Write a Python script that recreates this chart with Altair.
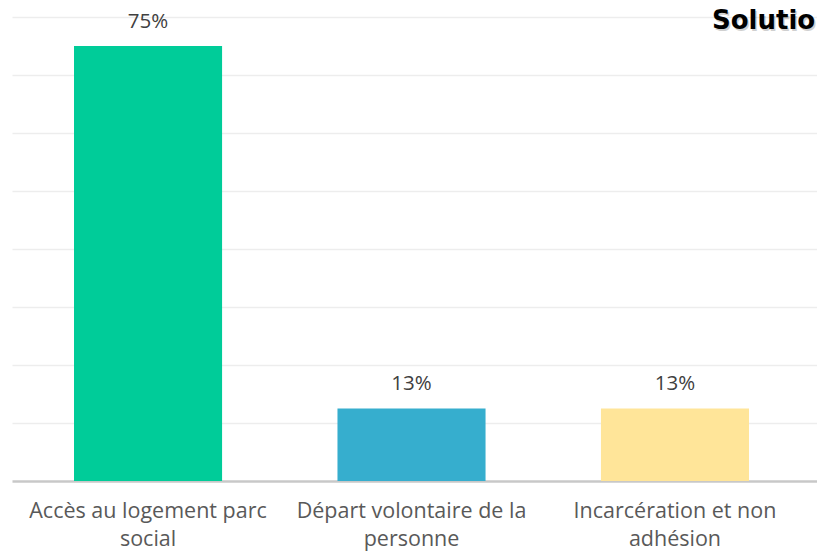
import altair as alt
import pandas as pd

categories = [
    "Accès au logement parc\nsocial",
    "Départ volontaire de la\npersonne",
    "Incarcération et non\nadhésion",
]
values = [0.75, 0.125, 0.125]
value_labels = ["75%", "13%", "13%"]
colors = ["#00CC99", "#36AECE", "#FFE599"]
grid_values = [0.1, 0.2, 0.3, 0.4, 0.5, 0.6, 0.7, 0.8]
title_text = ["Solutio"]

df = pd.DataFrame({"cat": categories, "value": values, "label": value_labels})

x_enc = alt.X(
    "cat:N",
    sort=categories,
    scale=alt.Scale(paddingInner=0.438, paddingOuter=0.2467, align=0.477),
    axis=alt.Axis(
        title=None,
        labelExpr="split(datum.label, '\\n')",
        labelAngle=0,
        labelFont="Open Sans",
        labelFontSize=21.5,
        labelColor="#595959",
        labelLineHeight=28,
        labelPadding=19,
        ticks=False,
        domainColor="#c8c8c8",
        domainWidth=2.5,
        labelLimit=400,
    ),
)
y_enc = alt.Y(
    "value:Q",
    scale=alt.Scale(domain=[0, 0.8]),
    axis=alt.Axis(
        values=grid_values,
        labels=False,
        ticks=False,
        domain=False,
        title=None,
        gridColor="#ededed",
        gridWidth=1.5,
    ),
)

base = alt.Chart(df)
bars = base.mark_bar().encode(
    x=x_enc,
    y=y_enc,
    color=alt.Color("cat:N", scale=alt.Scale(domain=categories, range=colors), legend=None),
)
texts = base.mark_text(
    baseline="alphabetic", dy=-18.5, fontSize=20.5, font="Open Sans", color="#404040"
).encode(x=alt.X("cat:N", sort=categories), y="value:Q", text="label:N")

tdf = pd.DataFrame({"t": title_text})
shadow = alt.Chart(tdf).mark_text(
    align="left", baseline="top", fontSize=26, font="DejaVu Sans",
    fontWeight="bold", color="#000000", opacity=0.18,
).encode(text="t:N", x=alt.value(701.5), y=alt.value(-7.5))
title = alt.Chart(tdf).mark_text(
    align="left", baseline="top", fontSize=26, font="DejaVu Sans",
    fontWeight="bold", color="#000000",
).encode(text="t:N", x=alt.value(700), y=alt.value(-9))

chart = (
    alt.layer(bars, texts, shadow, title)
    .properties(
        width=805,
        height=464,
        autosize=alt.AutoSizeParams(type="none"),
        padding={"left": 4, "top": 9, "right": 0, "bottom": 70},
        background="white",
    )
    .configure_view(stroke=None)
)

chart.save("out.html", embed_options={"renderer": "svg", "actions": False})
